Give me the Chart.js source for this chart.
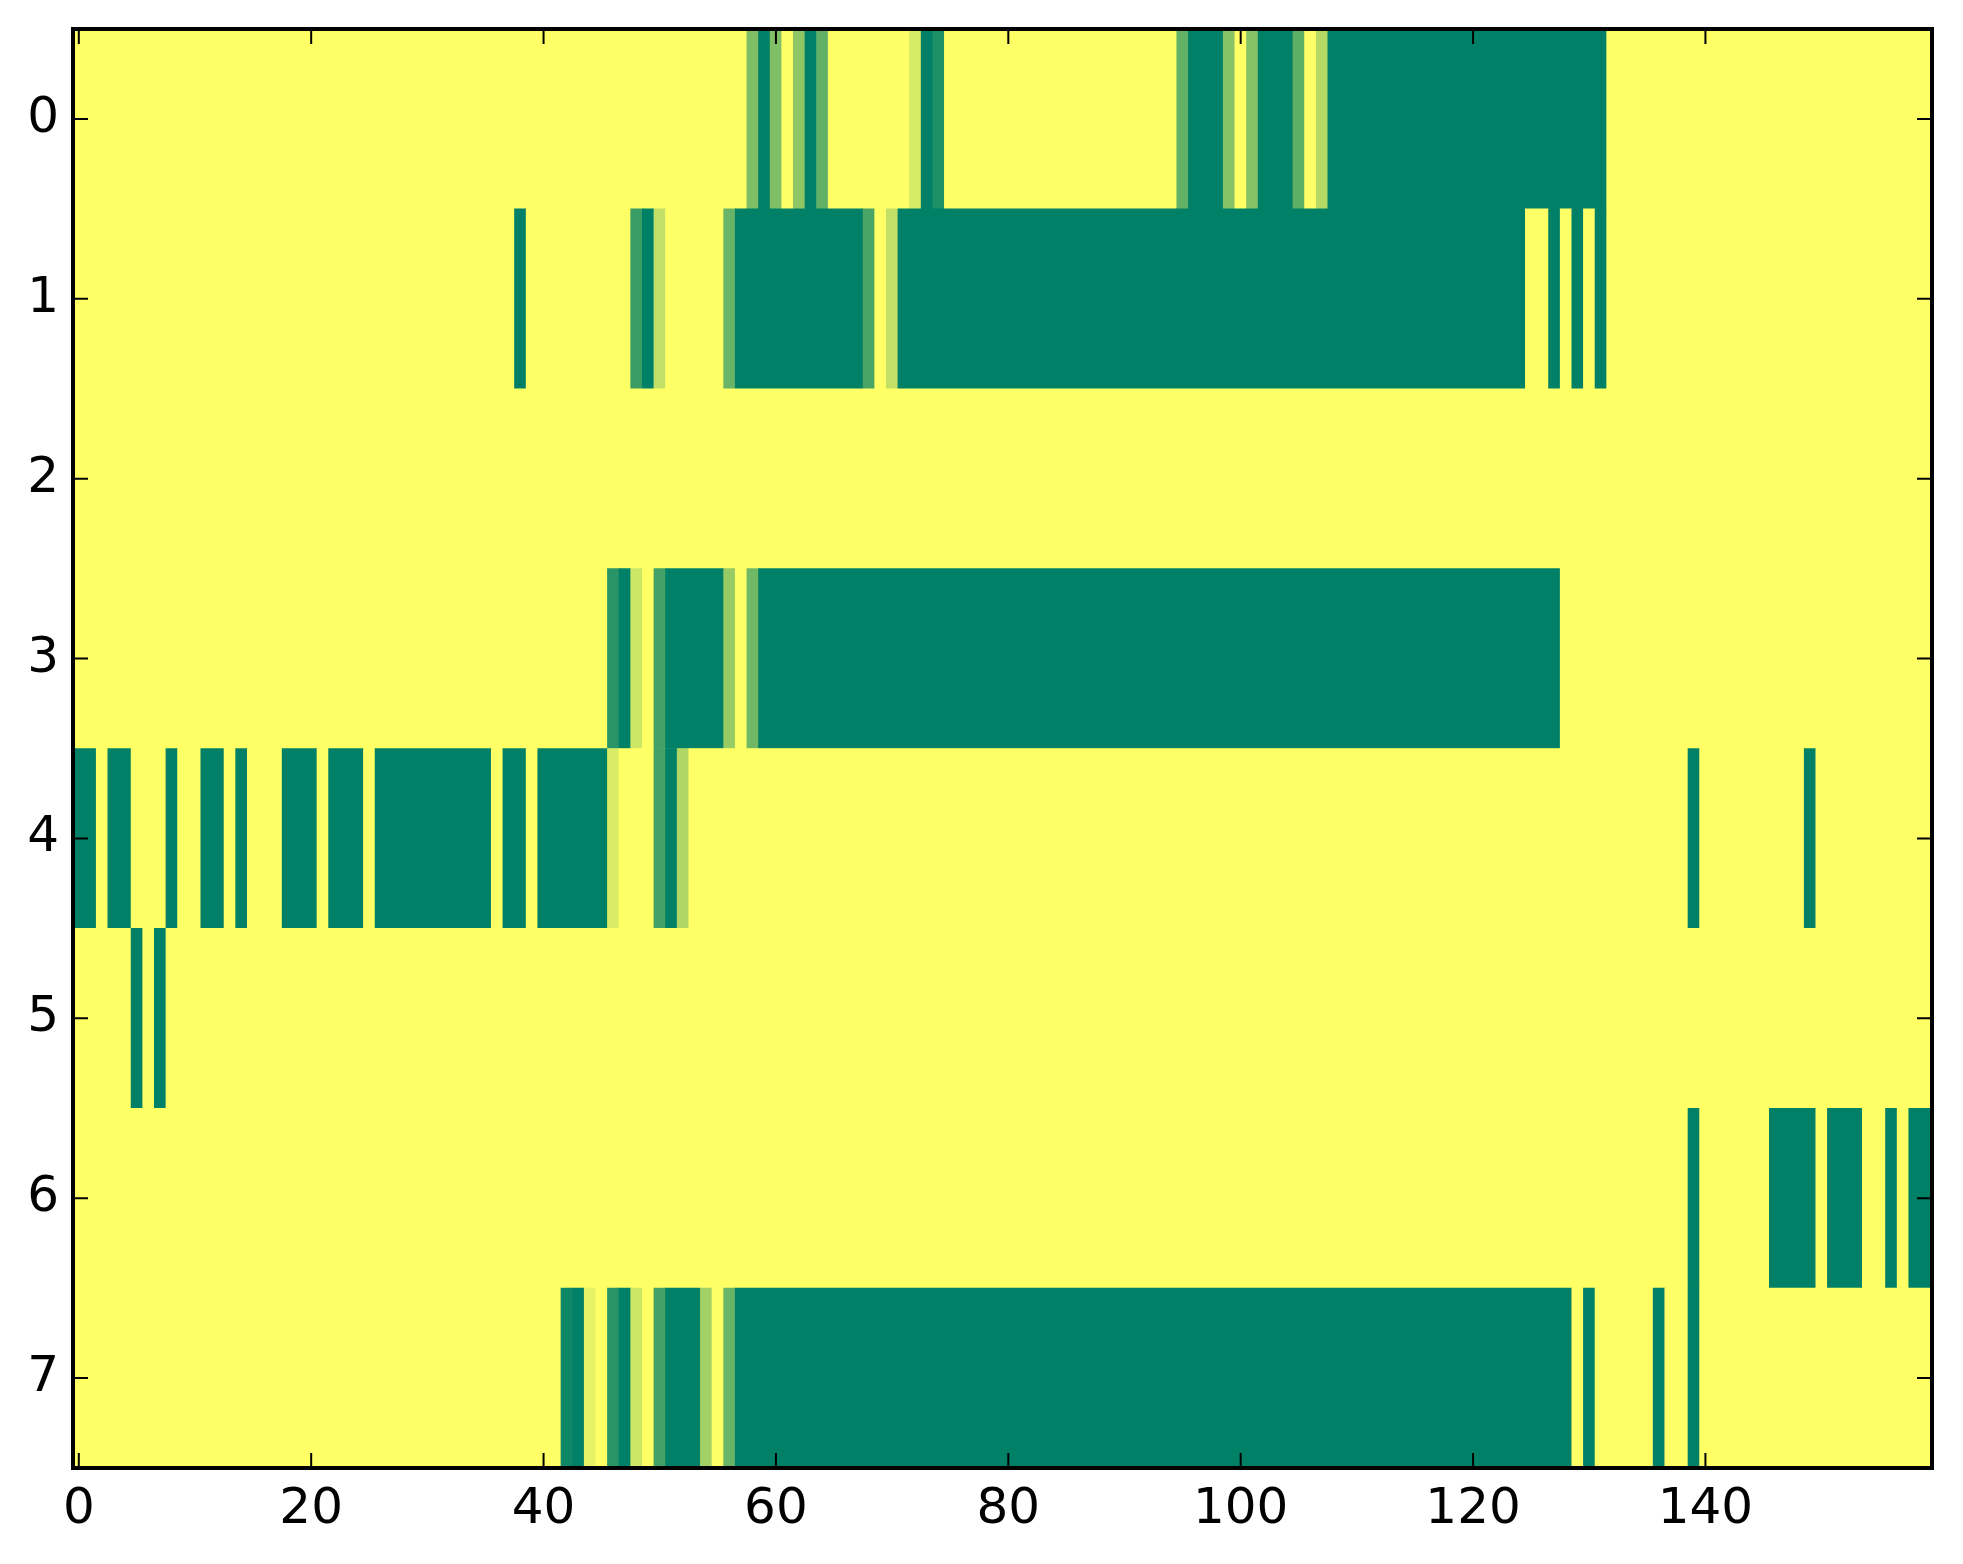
<!DOCTYPE html>
<html lang="en">
<head>
    <meta charset="UTF-8">
    <title>Heatmap</title>
    <script src="https://cdn.jsdelivr.net/npm/chart.js"></script>
    <style>
        html, body { margin: 0; padding: 0; background: #ffffff; overflow: hidden; }
        #wrap { width: 1963px; height: 1564px; position: relative; }
    </style>
</head>
<body>
<div id="wrap">
    <canvas id="myChart"></canvas>
</div>

<script>
// row labels (top to bottom) and x tick values
const rowLabels = ['0', '1', '2', '3', '4', '5', '6', '7'];
const xTicks = [0, 20, 40, 60, 80, 100, 120, 140];

// one array per row, 160 columns each (0 = yellow, 1 = dark green)
const row0 = [
    0,0,0,0,0,0,0,0,0,0,0,0,0,0,0,0,0,0,0,0,
    0,0,0,0,0,0,0,0,0,0,0,0,0,0,0,0,0,0,0,0,
    0,0,0,0,0,0,0,0,0,0,0,0,0,0,0,0,0,0,0.51,1,
    0.5,0,0.44,1,0.62,0,0,0,0,0,0,0,0.16,1,0.88,0,0,0,0,0,
    0,0,0,0,0,0,0,0,0,0,0,0,0,0,0,0.61,1,1,1,0.47,
    0,0.47,1,1,1,0.63,0,0.29,1,1,1,1,1,1,1,1,1,1,1,1,
    1,1,1,1,1,1,1,1,1,1,1,1,0,0,0,0,0,0,0,0,
    0,0,0,0,0,0,0,0,0,0,0,0,0,0,0,0,0,0,0,0
];
const row1 = [
    0,0,0,0,0,0,0,0,0,0,0,0,0,0,0,0,0,0,0,0,
    0,0,0,0,0,0,0,0,0,0,0,0,0,0,0,0,0,0,1,0,
    0,0,0,0,0,0,0,0,0.77,1,0.24,0,0,0,0,0,0.59,1,1,1,
    1,1,1,1,1,1,1,1,0.71,0,0.24,1,1,1,1,1,1,1,1,1,
    1,1,1,1,1,1,1,1,1,1,1,1,1,1,1,1,1,1,1,1,
    1,1,1,1,1,1,1,1,1,1,1,1,1,1,1,1,1,1,1,1,
    1,1,1,1,1,0,0,1,0,1,0,1,0,0,0,0,0,0,0,0,
    0,0,0,0,0,0,0,0,0,0,0,0,0,0,0,0,0,0,0,0
];
const row2 = [
    0,0,0,0,0,0,0,0,0,0,0,0,0,0,0,0,0,0,0,0,
    0,0,0,0,0,0,0,0,0,0,0,0,0,0,0,0,0,0,0,0,
    0,0,0,0,0,0,0,0,0,0,0,0,0,0,0,0,0,0,0,0,
    0,0,0,0,0,0,0,0,0,0,0,0,0,0,0,0,0,0,0,0,
    0,0,0,0,0,0,0,0,0,0,0,0,0,0,0,0,0,0,0,0,
    0,0,0,0,0,0,0,0,0,0,0,0,0,0,0,0,0,0,0,0,
    0,0,0,0,0,0,0,0,0,0,0,0,0,0,0,0,0,0,0,0,
    0,0,0,0,0,0,0,0,0,0,0,0,0,0,0,0,0,0,0,0
];
const row3 = [
    0,0,0,0,0,0,0,0,0,0,0,0,0,0,0,0,0,0,0,0,
    0,0,0,0,0,0,0,0,0,0,0,0,0,0,0,0,0,0,0,0,
    0,0,0,0,0,0,0.84,1,0.2,0,0.74,1,1,1,1,1,0.41,0,0.56,1,
    1,1,1,1,1,1,1,1,1,1,1,1,1,1,1,1,1,1,1,1,
    1,1,1,1,1,1,1,1,1,1,1,1,1,1,1,1,1,1,1,1,
    1,1,1,1,1,1,1,1,1,1,1,1,1,1,1,1,1,1,1,1,
    1,1,1,1,1,1,1,1,0,0,0,0,0,0,0,0,0,0,0,0,
    0,0,0,0,0,0,0,0,0,0,0,0,0,0,0,0,0,0,0,0
];
const row4 = [
    1,1,0,1,1,0,0,0,1,0,0,1,1,0,1,0,0,0,1,1,
    1,0,1,1,1,0,1,1,1,1,1,1,1,1,1,1,0,1,1,0,
    1,1,1,1,1,1,0.15,0,0,0,0.74,1,0.31,0,0,0,0,0,0,0,
    0,0,0,0,0,0,0,0,0,0,0,0,0,0,0,0,0,0,0,0,
    0,0,0,0,0,0,0,0,0,0,0,0,0,0,0,0,0,0,0,0,
    0,0,0,0,0,0,0,0,0,0,0,0,0,0,0,0,0,0,0,0,
    0,0,0,0,0,0,0,0,0,0,0,0,0,0,0,0,0,0,0,1,
    0,0,0,0,0,0,0,0,0,1,0,0,0,0,0,0,0,0,0,0
];
const row5 = [
    0,0,0,0,0,1,0,1,0,0,0,0,0,0,0,0,0,0,0,0,
    0,0,0,0,0,0,0,0,0,0,0,0,0,0,0,0,0,0,0,0,
    0,0,0,0,0,0,0,0,0,0,0,0,0,0,0,0,0,0,0,0,
    0,0,0,0,0,0,0,0,0,0,0,0,0,0,0,0,0,0,0,0,
    0,0,0,0,0,0,0,0,0,0,0,0,0,0,0,0,0,0,0,0,
    0,0,0,0,0,0,0,0,0,0,0,0,0,0,0,0,0,0,0,0,
    0,0,0,0,0,0,0,0,0,0,0,0,0,0,0,0,0,0,0,0,
    0,0,0,0,0,0,0,0,0,0,0,0,0,0,0,0,0,0,0,0
];
const row6 = [
    0,0,0,0,0,0,0,0,0,0,0,0,0,0,0,0,0,0,0,0,
    0,0,0,0,0,0,0,0,0,0,0,0,0,0,0,0,0,0,0,0,
    0,0,0,0,0,0,0,0,0,0,0,0,0,0,0,0,0,0,0,0,
    0,0,0,0,0,0,0,0,0,0,0,0,0,0,0,0,0,0,0,0,
    0,0,0,0,0,0,0,0,0,0,0,0,0,0,0,0,0,0,0,0,
    0,0,0,0,0,0,0,0,0,0,0,0,0,0,0,0,0,0,0,0,
    0,0,0,0,0,0,0,0,0,0,0,0,0,0,0,0,0,0,0,1,
    0,0,0,0,0,0,1,1,1,1,0,1,1,1,0,0,1,0,1,1
];
const row7 = [
    0,0,0,0,0,0,0,0,0,0,0,0,0,0,0,0,0,0,0,0,
    0,0,0,0,0,0,0,0,0,0,0,0,0,0,0,0,0,0,0,0,
    0,0,0.94,1,0.1,0,0.84,1,0.2,0,0.74,1,1,1,0.36,0,0.59,1,1,1,
    1,1,1,1,1,1,1,1,1,1,1,1,1,1,1,1,1,1,1,1,
    1,1,1,1,1,1,1,1,1,1,1,1,1,1,1,1,1,1,1,1,
    1,1,1,1,1,1,1,1,1,1,1,1,1,1,1,1,1,1,1,1,
    1,1,1,1,1,1,1,1,1,0,1,0,0,0,0,0,1,0,0,1,
    0,0,0,0,0,0,0,0,0,0,0,0,0,0,0,0,0,0,0,0
];
const rows = [row0, row1, row2, row3, row4, row5, row6, row7];

// summer_r colour map
function cmap(v) {
    const r = Math.round(255 * (1 - v));
    const g = Math.round(255 * (1 - v / 2));
    return `rgb(${r}, ${g}, 102)`;
}

// merge equal neighbouring cells of a row into one floating bar
const cells = [];
rows.forEach((row, r) => {
    let start = 0;
    for (let c = 1; c <= row.length; c++) {
        if (c === row.length || row[c] !== row[start]) {
            cells.push({ x: [start - 0.5, c - 0.5], y: rowLabels[r], v: row[start] });
            start = c;
        }
    }
});

const FONT = { family: "'DejaVu Sans', sans-serif", size: 50 };

const frame = {
    id: 'frame',
    beforeDatasetsDraw(chart) {
        const a = chart.chartArea;
        const ctx = chart.ctx;
        ctx.save();
        ctx.fillStyle = cmap(0);
        ctx.fillRect(a.left, a.top, a.right - a.left, a.bottom - a.top);
        ctx.restore();
    },
    afterDatasetsDraw(chart) {
        const a = chart.chartArea;
        const ctx = chart.ctx;
        const xs = chart.scales.x;
        const ys = chart.scales.y;
        const len = 15;
        ctx.save();
        ctx.strokeStyle = '#000000';
        ctx.lineWidth = 2;
        ctx.beginPath();
        xTicks.forEach(v => {
            const px = xs.getPixelForValue(v);
            ctx.moveTo(px, a.bottom);
            ctx.lineTo(px, a.bottom - len);
            ctx.moveTo(px, a.top);
            ctx.lineTo(px, a.top + len);
        });
        rowLabels.forEach((lab, i) => {
            const py = ys.getPixelForValue(i);
            ctx.moveTo(a.left, py);
            ctx.lineTo(a.left + len, py);
            ctx.moveTo(a.right, py);
            ctx.lineTo(a.right - len, py);
        });
        ctx.stroke();
        ctx.lineWidth = 4;
        ctx.strokeRect(a.left, a.top, a.right - a.left, a.bottom - a.top);
        ctx.restore();
    }
};

// keep label overhang from moving the plot area
function noPad(scale) {
    scale.paddingTop = 0;
    scale.paddingBottom = 0;
    scale.paddingLeft = 0;
    scale.paddingRight = 0;
}

const ctx = document.getElementById('myChart').getContext('2d');
new Chart(ctx, {
    type: 'bar',
    data: {
        labels: rowLabels,
        datasets: [{
            data: cells,
            backgroundColor: c => cmap(c.raw ? c.raw.v : 0),
            borderWidth: 0,
            borderSkipped: false,
            barPercentage: 1,
            categoryPercentage: 1,
            grouped: false
        }]
    },
    options: {
        indexAxis: 'y',
        responsive: true,
        maintainAspectRatio: false,
        animation: false,
        layout: { padding: { left: 0, top: 29, right: 31, bottom: 0 } },
        plugins: {
            legend: { display: false },
            tooltip: { enabled: false }
        },
        scales: {
            x: {
                type: 'linear',
                min: -0.5,
                max: 159.5,
                grid: { display: false },
                border: { display: false },
                afterBuildTicks: scale => {
                    scale.ticks = xTicks.map(v => ({ value: v }));
                },
                afterFit: scale => {
                    scale.height = 96;
                    noPad(scale);
                },
                ticks: {
                    color: '#000000',
                    font: FONT,
                    padding: 4,
                    maxRotation: 0,
                    autoSkip: false
                }
            },
            y: {
                type: 'category',
                grid: { display: false },
                border: { display: false },
                afterFit: scale => {
                    scale.width = 73;
                    noPad(scale);
                },
                ticks: {
                    color: '#000000',
                    font: FONT,
                    padding: 6
                }
            }
        }
    },
    plugins: [frame]
});
</script>
</body>
</html>
